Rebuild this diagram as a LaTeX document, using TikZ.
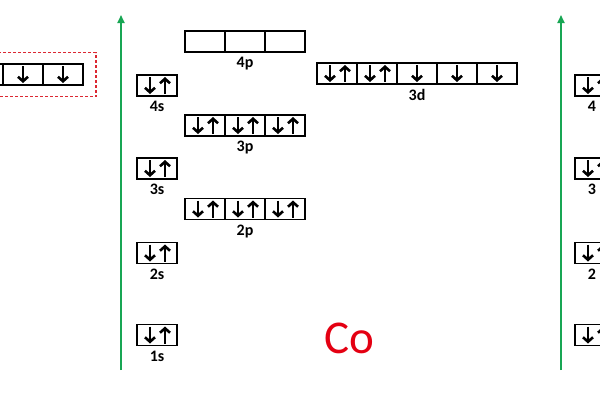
\documentclass[tikz,border=0pt]{standalone}
\usepackage{fontspec}
\setmainfont{Carlito}
\usetikzlibrary{positioning,arrows.meta,fit}
\definecolor{axisgreen}{RGB}{24,166,84}
\definecolor{cored}{RGB}{228,0,18}
\definecolor{markred}{RGB}{220,40,50}

% arrows inside one orbital box
\newcommand{\spindn}[2]{\draw[spin] ([xshift=#2pt,yshift=-2pt]#1.north) -- ([xshift=#2pt,yshift=2pt]#1.south);}
\newcommand{\spinup}[2]{\draw[spin] ([xshift=#2pt,yshift=2pt]#1.south) -- ([xshift=#2pt,yshift=-2pt]#1.north);}
\newcommand{\pairbox}[1]{\spindn{#1}{-7}\spinup{#1}{8}}

\begin{document}
\begin{tikzpicture}[
    x=1pt,y=-1pt,
    orb/.style={draw,line width=1.5pt,minimum width=40pt,minimum height=21pt,inner sep=0pt,outer sep=0pt},
    spin/.style={line width=2.6pt,-{Straight Barb[length=4.5pt,width=10pt]}},
    lbl/.style={font=\bfseries\fontsize{16}{16}\selectfont,inner sep=0pt},
    axis/.style={axisgreen,line width=1.8pt,-{Triangle[length=8pt,width=7pt]}}
]
\clip (0,0) rectangle (600,400);

% energy axes
\coordinate (a1b) at (121,370);
\coordinate (a1t) at (121,15);
\coordinate (a2b) at (561,370);
\coordinate (a2t) at (561,15);
\draw[axis] (a1b) -- (a1t);
\draw[axis] (a2b) -- (a2t);

% s orbitals
\node[orb] (s1) at (157,335) {};
\node[orb] (s2) at (157,253) {};
\node[orb] (s3) at (157,168.5) {};
\node[orb] (s4) at (157,85.5) {};
\pairbox{s1}
\pairbox{s2}
\pairbox{s3}
\pairbox{s4}
\node[lbl,below=5pt of s1] (s1l) {1s};
\node[lbl,below=5pt of s2] (s2l) {2s};
\node[lbl,below=5pt of s3] (s3l) {3s};
\node[lbl,below=5pt of s4] (s4l) {4s};

% p orbitals
\node[orb] (p2b) at (245,209) {};
\node[orb,left=0pt of p2b] (p2a) {};
\node[orb,right=0pt of p2b] (p2c) {};
\node[orb] (p3b) at (245,125.5) {};
\node[orb,left=0pt of p3b] (p3a) {};
\node[orb,right=0pt of p3b] (p3c) {};
\node[orb] (p4b) at (245,41.5) {};
\node[orb,left=0pt of p4b] (p4a) {};
\node[orb,right=0pt of p4b] (p4c) {};
\pairbox{p2a}
\pairbox{p2b}
\pairbox{p2c}
\pairbox{p3a}
\pairbox{p3b}
\pairbox{p3c}
\node[lbl,below=5pt of p2b] (p2l) {2p};
\node[lbl,below=5pt of p3b] (p3l) {3p};
\node[lbl,below=5pt of p4b] (p4l) {4p};

% 3d orbitals
\node[orb] (d3) at (417,73.5) {};
\node[orb,left=0pt of d3] (d2) {};
\node[orb,left=0pt of d2] (d1) {};
\node[orb,right=0pt of d3] (d4) {};
\node[orb,right=0pt of d4] (d5) {};
\pairbox{d1}
\pairbox{d2}
\spindn{d3}{0}
\spindn{d4}{0}
\spindn{d5}{0}
\node[lbl,below=5pt of d3] (dl) {3d};

\node[text=cored,font=\fontsize{47}{47}\selectfont] (co) at (349,338) {Co};

% previous element (cut off at the left)
\node[orb] (ld3) at (-17,74.5) {};
\node[orb,right=0pt of ld3] (ld4) {};
\node[orb,right=0pt of ld4] (ld5) {};
\spindn{ld4}{0}
\spindn{ld5}{0}
\node[draw=markred,line width=1.2pt,dash pattern=on 3pt off 2pt,fit=(ld3)(ld5),inner xsep=13pt,inner ysep=11.5pt] (mark) {};

% next element (cut off at the right)
\node[orb] (rs1) at (595,335) {};
\node[orb] (rs2) at (595,253) {};
\node[orb] (rs3) at (595,168.5) {};
\node[orb] (rs4) at (595,85.5) {};
\pairbox{rs1}
\pairbox{rs2}
\pairbox{rs3}
\pairbox{rs4}
\node[lbl,below=5pt of rs2,xshift=-3pt] (rs2l) {2};
\node[lbl,below=5pt of rs3,xshift=-3pt] (rs3l) {3};
\node[lbl,below=5pt of rs4,xshift=-3pt] (rs4l) {4};
\end{tikzpicture}
\end{document}
